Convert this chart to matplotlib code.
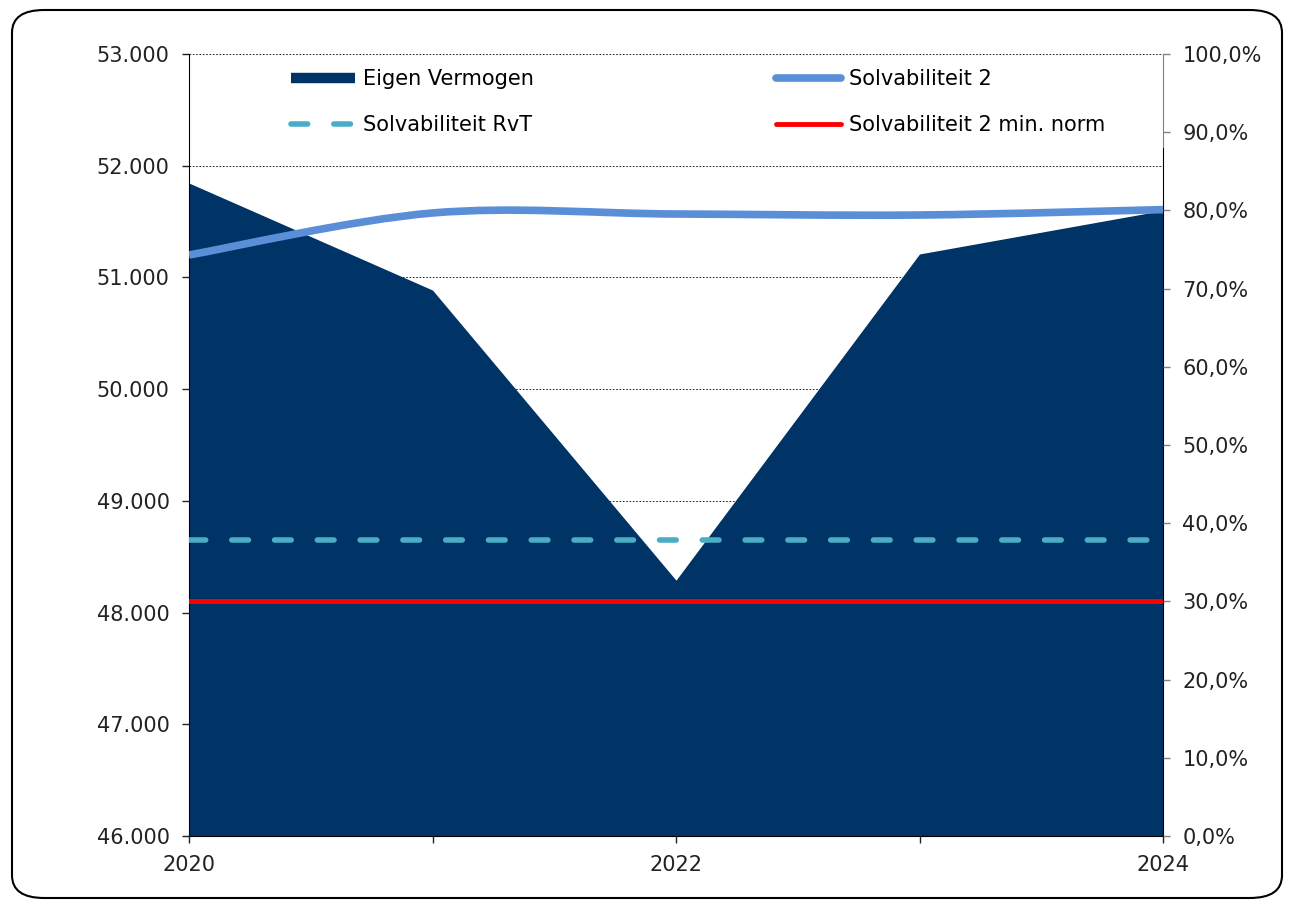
import matplotlib
matplotlib.use("Agg")
import matplotlib.pyplot as plt
from matplotlib.lines import Line2D
from matplotlib.path import Path
from matplotlib.patches import PathPatch, FancyBboxPatch
from matplotlib.ticker import FuncFormatter

# data
years = [2020, 2021, 2022, 2023, 2024]
eigen_vermogen = [51845, 50887, 48290, 51210, 51600]
solv_2 = [74.3, 79.67, 79.54, 79.41, 80.1]
solv_rvt = 37.9
solv_2_min = 30.0
year_labels = ["2020", "", "2022", "", "2024"]

navy = "#003366"
blue = "#5A8FD8"
teal = "#4BACC6"
red = "#FF0000"

plt.rcParams["font.family"] = ["DejaVu Sans"]
plt.rcParams["font.size"] = 15

fig = plt.figure(figsize=(12.9, 9.06), dpi=100)
ax = fig.add_axes([189 / 1290, 1 - 836 / 906, (1163 - 189) / 1290, (836 - 54) / 906])

# rounded frame around the chart
frame = FancyBboxPatch((12 / 1290, 8 / 906), 1270 / 1290, 888 / 906,
                       boxstyle="round,pad=0,rounding_size=0.025",
                       transform=fig.transFigure, fill=False,
                       edgecolor="black", linewidth=1.5, zorder=0)
fig.patches.append(frame)

# area series
ax.fill_between(years, eigen_vermogen, 46000, color=navy, linewidth=0, zorder=2)
ax.set_xlim(2020, 2024)
ax.set_ylim(46000, 53000)
ax.set_yticks(range(46000, 53001, 1000))
ax.yaxis.set_major_formatter(FuncFormatter(lambda v, p: f"{v:,.0f}".replace(",", ".")))
ax.set_xticks(years)
ax.set_xticklabels(year_labels)
ax.grid(axis="y", color="black", linestyle=(0, (2, 2)), linewidth=0.6, zorder=1)
ax.set_axisbelow(True)
ax.tick_params(axis="y", direction="out", length=5, width=1, pad=9, colors="#222222")
ax.tick_params(axis="x", direction="out", length=5, width=1, pad=9, colors="#222222")
ax.spines["top"].set_visible(False)
ax.spines["left"].set_color("black")
ax.spines["bottom"].set_color("black")
ax.spines["right"].set_color("black")
ax.spines["right"].set_bounds(46000, 52170)

ax2 = ax.twinx()
ax2.set_ylim(0, 100)
ax2.set_yticks(range(0, 101, 10))
ax2.yaxis.set_major_formatter(FuncFormatter(lambda v, p: f"{v:.1f}%".replace(".", ",")))
ax2.tick_params(axis="y", direction="out", length=5, width=1, pad=9,
                colors="#808080", labelcolor="#222222")
for s in ["top", "left", "bottom"]:
    ax2.spines[s].set_visible(False)
ax2.spines["right"].set_color("#808080")
ax2.spines["right"].set_bounds(88.1, 100)

# smoothed Solvabiliteit 2 line (Catmull-Rom as cubic Bezier)
verts = [(years[0], solv_2[0])]
codes = [Path.MOVETO]
n = len(years)
for i in range(n - 1):
    p0 = (years[max(i - 1, 0)], solv_2[max(i - 1, 0)])
    p1 = (years[i], solv_2[i])
    p2 = (years[i + 1], solv_2[i + 1])
    p3 = (years[min(i + 2, n - 1)], solv_2[min(i + 2, n - 1)])
    c1 = (p1[0] + (p2[0] - p0[0]) / 6, p1[1] + (p2[1] - p0[1]) / 6)
    c2 = (p2[0] - (p3[0] - p1[0]) / 6, p2[1] - (p3[1] - p1[1]) / 6)
    verts += [c1, c2, p2]
    codes += [Path.CURVE4] * 3
ax2.add_patch(PathPatch(Path(verts, codes), facecolor="none", edgecolor=blue,
                        linewidth=5.5, capstyle="butt", zorder=4))

ax2.plot([years[0], years[-1]], [solv_rvt, solv_rvt], color=teal, linewidth=4,
         dashes=(3.0, 4.7), dash_capstyle="round", zorder=3)
ax2.plot([years[0], years[-1]], [solv_2_min, solv_2_min], color=red,
         linewidth=3.5, zorder=3)

handles = [
    Line2D([], [], color=navy, linewidth=7.5, solid_capstyle="butt"),
    Line2D([], [], color=teal, linewidth=4, dashes=(3.0, 4.7), dash_capstyle="round"),
    Line2D([], [], color=blue, linewidth=5.5, solid_capstyle="round"),
    Line2D([], [], color=red, linewidth=3.5, solid_capstyle="round"),
]
labels = ["Eigen Vermogen", "Solvabiliteit RvT", "Solvabiliteit 2",
          "Solvabiliteit 2 min. norm"]
ax2.legend(handles, labels, ncol=2, frameon=False, loc="upper left",
           bbox_to_anchor=(0.085, 1.005), handlelength=3.1, handletextpad=0.4,
           columnspacing=11.6, labelspacing=1.25, fontsize=15)

fig.savefig("out.png", dpi=100)
